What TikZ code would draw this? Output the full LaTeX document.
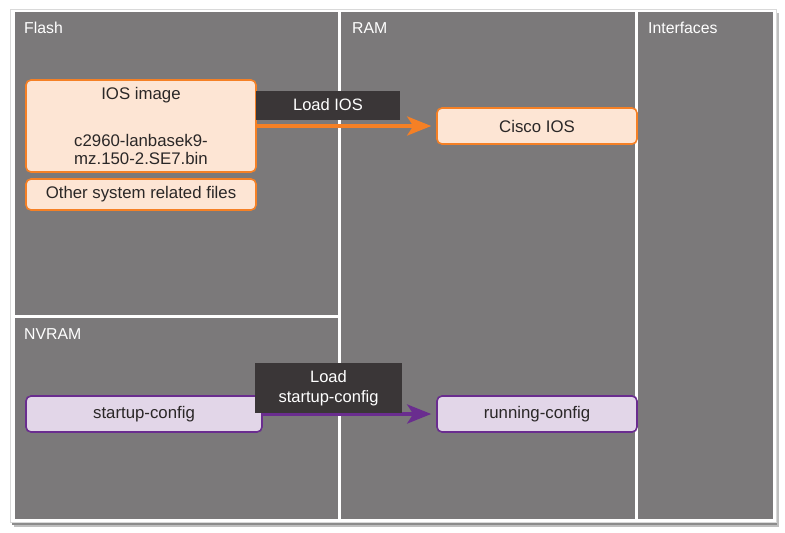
\documentclass[tikz,border=0pt]{standalone}
\usepackage{fontspec}
\setmainfont{Liberation Sans}
\usepackage{tikz}
\usetikzlibrary{arrows.meta}
\definecolor{panelgray}{HTML}{7B797A}
\definecolor{ciscoorange}{HTML}{F58025}
\definecolor{ciscopeach}{HTML}{FDE5D4}
\definecolor{ciscopurple}{HTML}{6A2D8F}
\definecolor{ciscolilac}{HTML}{E2D6E8}
\definecolor{tagblack}{HTML}{3A3637}
\definecolor{filetext}{HTML}{2A2727}
\tikzset{
  panel/.style={fill=panelgray},
  title/.style={anchor=base west, text=white, inner sep=0pt, font=\fontsize{15.8}{18}\selectfont},
  flashfile/.style={draw=ciscoorange, fill=ciscopeach, line width=1.6pt, rounded corners=5pt,
    text=filetext, align=center, inner sep=0pt, font=\fontsize{16.8}{18}\selectfont},
  configfile/.style={flashfile, draw=ciscopurple, fill=ciscolilac},
  tag/.style={fill=tagblack, text=white, align=center, inner sep=0pt, font=\fontsize{16.5}{20}\selectfont},
  loadarrow/.style={line width=3.8pt, shorten >=5pt, -{Stealth[length=24pt,width=19pt,inset=6pt]}}
}

\begin{document}
\begin{tikzpicture}[x=1pt,y=-1pt]
\useasboundingbox (0,0) rectangle (785,533);

\fill[black!25] (14,13) rectangle (779,527);
\fill[black!45] (12,11) rectangle (777,525);
\filldraw[fill=white, draw=black!15] (10,9) rectangle (776,522);

\fill[panel] (15,12) rectangle (338,315);
\fill[panel] (15,318) rectangle (338,519);
\fill[panel] (341,12) rectangle (635,519);
\fill[panel] (638,12) rectangle (773,519);

\node[title] (flash) at (24,33) {Flash};
\node[title] (nvram) at (24,339) {NVRAM};
\node[title] (ram) at (352,33) {RAM};
\node[title] (interfaces) at (648,33) {Interfaces};

\node[flashfile, minimum width=230pt, minimum height=92pt] (iosimage) at (141,126)
  {IOS image\\[29pt] c2960-lanbasek9-\\ mz.150-2.SE7.bin};
\node[flashfile, minimum width=230pt, minimum height=31pt] (otherfiles) at (141,194.5)
  {Other system related files};
\node[flashfile, minimum width=200pt, minimum height=36pt] (ciscoios) at (537,126) {Cisco IOS};

\node[configfile, minimum width=236pt, minimum height=36pt] (startup) at (144,414) {startup-config};
\node[configfile, minimum width=200pt, minimum height=36pt] (running) at (537,414) {running-config};

\path
(iosimage) edge[loadarrow, ciscoorange] (ciscoios)
(startup) edge[loadarrow, ciscopurple] (running);

\node[tag, minimum width=144pt, minimum height=29pt] (loadios) at (328,105) {Load IOS};
\node[tag, minimum width=147pt, minimum height=50pt] (loadstartup) at (328.5,388)
  {Load\\ startup-config};

\end{tikzpicture}
\end{document}
